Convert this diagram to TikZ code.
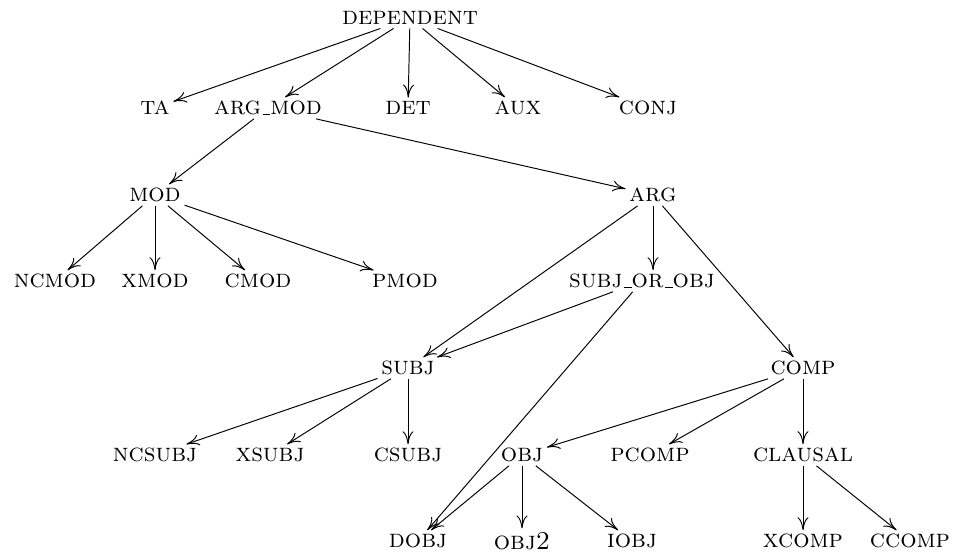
\documentclass[tikz,border=0pt]{standalone}
\usepackage{fontspec}
\usepackage{tikz}
\usetikzlibrary{arrows.meta}
\usetikzlibrary{positioning}

\newcommand{\usc}{\kern.06em\vbox{\hrule width.3em}}

\tikzset{
    rel/.style={font=\fontsize{14.6}{17}\selectfont\scshape, inner sep=2pt},
    dep/.style={-{To[length=2.6mm, width=2.2mm]}, line width=0.55pt}
}

\begin{document}
\begin{tikzpicture}[x=0.02cm, y=-0.02cm]
    \useasboundingbox (0,0) rectangle (954,552);

    % top level
    \node[rel] (dependent) at (410,18) {dependent};

    \node[rel] (ta)     at (155,108) {ta};
    \node[rel] (argmod) at (268,108) {arg\usc mod};
    \node[rel] (det)    at (408,108) {det};
    \node[rel] (aux)    at (518,108) {aux};
    \node[rel] (conj)   at (648,108) {conj};

    \node[rel] (mod) at (155,195) {mod};
    \node[rel] (arg) at (653,195) {arg};

    \node[rel] (ncmod) at (55,281)  {ncmod};
    \node[rel] (xmod)  at (155,281) {xmod};
    \node[rel] (cmod)  at (258,281) {cmod};
    \node[rel] (pmod)  at (405,281) {pmod};
    \node[rel] (subjorobj) at (642,281) {subj\usc or\usc obj};

    \node[rel] (subj) at (408,368) {subj};
    \node[rel] (comp) at (803,368) {comp};

    \node[rel] (ncsubj)  at (155,455) {ncsubj};
    \node[rel] (xsubj)   at (270,455) {xsubj};
    \node[rel] (csubj)   at (408,455) {csubj};
    \node[rel] (obj)     at (522,455) {obj};
    \node[rel] (pcomp)   at (650,455) {pcomp};
    \node[rel] (clausal) at (803,455) {clausal};

    \node[rel] (dobj)   at (418,541) {dobj};
    \node[rel] (objtwo) at (522,541) {obj2};
    \node[rel] (iobj)   at (632,541) {iobj};
    \node[rel] (xcomp)  at (803,541) {xcomp};
    \node[rel] (ccomp)  at (910,541) {ccomp};

    % edges
    \foreach \t in {ta, argmod, det, aux, conj}
        \draw[dep] (dependent) -- (\t);
    \foreach \t in {mod, arg}
        \draw[dep] (argmod) -- (\t);
    \foreach \t in {ncmod, xmod, cmod, pmod}
        \draw[dep] (mod) -- (\t);
    \foreach \t in {subj, comp}
        \draw[dep] (arg) -- (\t);
    \draw[dep] (arg.south) -- (arg.south |- subjorobj.north);
    \foreach \t in {subj, dobj}
        \draw[dep] (subjorobj) -- (\t);
    \foreach \t in {ncsubj, xsubj, csubj}
        \draw[dep] (subj) -- (\t);
    \foreach \t in {obj, pcomp, clausal}
        \draw[dep] (comp) -- (\t);
    \foreach \t in {dobj, objtwo, iobj}
        \draw[dep] (obj) -- (\t);
    \foreach \t in {xcomp, ccomp}
        \draw[dep] (clausal) -- (\t);

\end{tikzpicture}
\end{document}
